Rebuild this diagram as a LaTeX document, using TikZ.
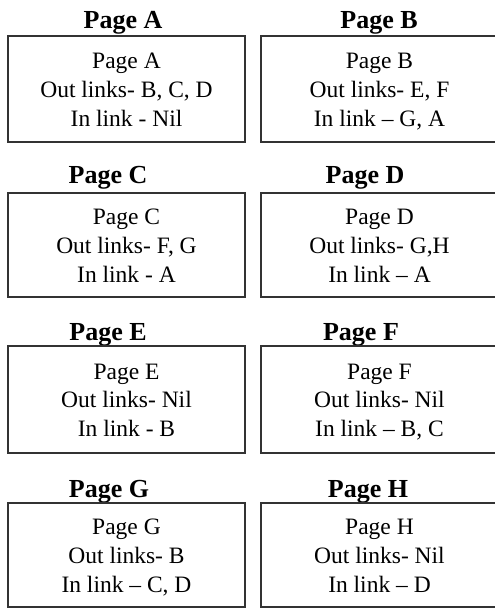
\documentclass[tikz,border=0pt]{standalone}
\usepackage{fontspec}
\setmainfont{Liberation Serif}
\newcommand{\topstrut}{\rule{0pt}{25.5pt}}
\begin{document}
\begin{tikzpicture}[x=1pt,y=-1pt,
  pagebox/.style={draw=black!80, line width=1.6pt, minimum width=237pt, inner sep=0pt,
    align=center, font=\fontsize{23.5}{28.8}\selectfont},
  pagetitle/.style={anchor=base, inner sep=0pt, font=\fontsize{26}{30}\selectfont\bfseries}]
\useasboundingbox (0,0) rectangle (495,608);
\clip (0,0) rectangle (495,608);
% Row 1
\node[pagetitle] (tA) at (123,28) {Page A};
\node[pagetitle] (tB) at (379,28) {Page B};
\node[pagebox, minimum height=106pt] (A) at (126.5,89) {\topstrut Page A\\Out links- B, C, D\\In link - Nil\strut};
\node[pagebox, minimum height=106pt] (B) at (379.5,89) {\topstrut Page B\\Out links- E, F\\In link -- G, A\strut};
% Row 2
\node[pagetitle] (tC) at (108,183) {Page C};
\node[pagetitle] (tD) at (365,183) {Page D};
\node[pagebox, minimum height=104pt] (C) at (126.5,245) {\topstrut Page C\\Out links- F, G\\In link - A\strut};
\node[pagebox, minimum height=104pt] (D) at (379.5,245) {\topstrut Page D\\Out links- G,H\\In link -- A\strut};
% Row 3
\node[pagetitle] (tE) at (108,340) {Page E};
\node[pagetitle] (tF) at (361,340) {Page F};
\node[pagebox, minimum height=107pt] (E) at (126.5,399.5) {\topstrut Page E\\Out links- Nil\\In link - B\strut};
\node[pagebox, minimum height=107pt] (F) at (379.5,399.5) {\topstrut Page F\\Out links- Nil\\In link -- B, C\strut};
% Row 4
\node[pagetitle] (tG) at (109,497) {Page G};
\node[pagetitle] (tH) at (368,497) {Page H};
\node[pagebox, minimum height=104pt] (G) at (126.5,555) {\topstrut Page G\\Out links- B\\In link -- C, D\strut};
\node[pagebox, minimum height=104pt] (H) at (379.5,555) {\topstrut Page H\\Out links- Nil\\In link -- D\strut};
\end{tikzpicture}
\end{document}
